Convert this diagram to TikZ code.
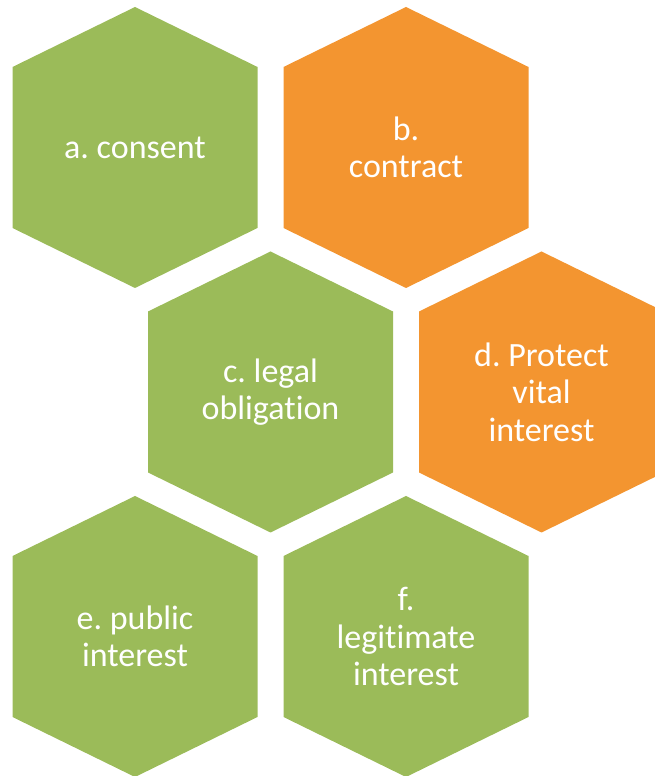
\documentclass[tikz,border=0pt]{standalone}
\usepackage{fontspec}
\setmainfont[Ligatures=NoCommon]{Carlito}
\frenchspacing

\definecolor{basisgreen}{HTML}{9BBB59}
\definecolor{basisorange}{HTML}{F39530}

\tikzset{
	basis/.style={text=white, align=center, inner sep=0pt,
		font=\fontsize{34}{37.5}\selectfont},
}

% one cell of the honeycomb, drawn around the current point
\def\hexcell{+(0,140.5) -- +(122.5,80.5) -- +(122.5,-80.5) -- +(0,-140.5) -- +(-122.5,-80.5) -- +(-122.5,80.5) -- cycle}

\begin{document}
\begin{tikzpicture}[x=1pt,y=1pt]
	\def\colstep{135.5}
	\def\rowstep{244.5}

	\useasboundingbox (0,0) rectangle (655,776);
	\clip (0,0) rectangle (655,776);

	\coordinate (ca) at (135,628.5);
	\coordinate (cb) at (135+2*\colstep,628.5);
	\coordinate (cc) at (135+\colstep,628.5-\rowstep);
	\coordinate (cd) at (135+3*\colstep,628.5-\rowstep);
	\coordinate (ce) at (135,628.5-2*\rowstep);
	\coordinate (cf) at (135+2*\colstep,628.5-2*\rowstep);

	\fill[basisgreen] (ca) \hexcell;
	\fill[basisorange] (cb) \hexcell;
	\fill[basisgreen] (cc) \hexcell;
	\fill[basisorange] (cd) \hexcell;
	\fill[basisgreen] (ce) \hexcell;
	\fill[basisgreen] (cf) \hexcell;

	\node[basis] (consent) at (ca) {a. consent};
	\node[basis] (contract) at (cb) {b.\\contract};
	\node[basis] (legal) at (cc) {c. legal\\obligation};
	\node[basis] (vital) at (cd) {d. Protect\\vital\\interest};
	\node[basis] (public) at (ce) {e. public\\interest};
	\node[basis] (legitimate) at (cf) {f.\\legitimate\\interest};
\end{tikzpicture}
\end{document}
